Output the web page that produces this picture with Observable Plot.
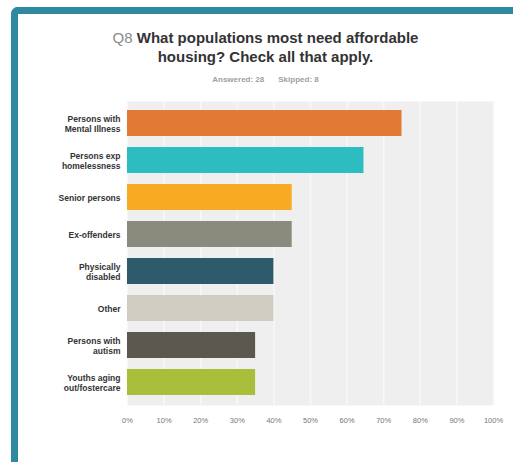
<!DOCTYPE html>
<html>
<head>
<meta charset="utf-8">
<script src="https://cdn.jsdelivr.net/npm/d3@7"></script>
<script src="https://cdn.jsdelivr.net/npm/@observablehq/plot@0.6"></script>
<style>
  html, body { margin: 0; padding: 0; background: #fff; width: 513px; height: 462px; overflow: hidden; font-family: "Liberation Sans", Arial, sans-serif; }
  #frame { position: absolute; left: 11px; top: 7px; width: 560px; height: 520px; border-left: 7px solid #2f89a0; border-top: 7px solid #2f89a0; border-top-left-radius: 7px; box-sizing: border-box; }
  #title { position: absolute; left: 18px; width: 495px; top: 28px; text-align: center; font-size: 15px; line-height: 19px; font-weight: bold; color: #333; }
  #title .q { color: #8a8a8a; font-weight: normal; }
  #sub { position: absolute; left: 18px; width: 495px; top: 75px; text-align: center; font-size: 8px; line-height: 10px; color: #a0a0a0; font-weight: bold; }
  #sub span { margin: 0 7px; }
  #chart { position: absolute; left: 0; top: 95px; }
</style>
</head>
<body>
<div id="frame"></div>
<div id="title"><span class="q">Q8</span> What populations most need affordable<br>housing? Check all that apply.</div>
<div id="sub"><span>Answered: 28</span><span>Skipped: 8</span></div>
<div id="chart"></div>
<script>
const categories = [
  "Persons with\nMental Illness",
  "Persons exp\nhomelessness",
  "Senior persons",
  "Ex-offenders",
  "Physically\ndisabled",
  "Other",
  "Persons with\nautism",
  "Youths aging\nout/fostercare"
];
const values = [75, 64.6, 45, 45, 40, 40, 35, 35];
const colors = ["#e07a35", "#2dbcc0", "#f8aa22", "#8b8b7d", "#2e5b6b", "#cfccc1", "#5b584f", "#a9bf3b"];
const tickValues = [0, 10, 20, 30, 40, 50, 60, 70, 80, 90, 100];
const tickLabels = ["0%", "10%", "20%", "30%", "40%", "50%", "60%", "70%", "80%", "90%", "100%"];

const data = categories.map((c, i) => ({category: c, value: values[i]}));

const chart = Plot.plot({
  width: 513,
  height: 340,
  marginTop: 6,
  marginBottom: 30,
  marginLeft: 127,
  marginRight: 20,
  style: {fontFamily: "Liberation Sans, Arial, sans-serif", background: "transparent"},
  x: {domain: [0, 100]},
  y: {domain: categories, paddingInner: 0.29, paddingOuter: 0.15},
  color: {domain: categories, range: colors},
  marks: [
    Plot.frame({fill: "#efefef", stroke: "none"}),
    Plot.gridX(tickValues, {stroke: "#f8f8f8", strokeOpacity: 1, strokeWidth: 1.5}),
    Plot.barX(data, {y: "category", x: "value", fill: "category"}),
    Plot.axisY({tickSize: 0, tickPadding: 7, fontSize: 8.5, fontWeight: "bold", fill: "#333", lineHeight: 1.25, label: null}),
    Plot.axisX({ticks: tickValues, tickSize: 0, tickPadding: 12, fontSize: 7.5, fill: "#777", label: null,
      tickFormat: d => tickLabels[tickValues.indexOf(d)]})
  ]
});
document.getElementById("chart").appendChild(chart);
</script>
</body>
</html>
